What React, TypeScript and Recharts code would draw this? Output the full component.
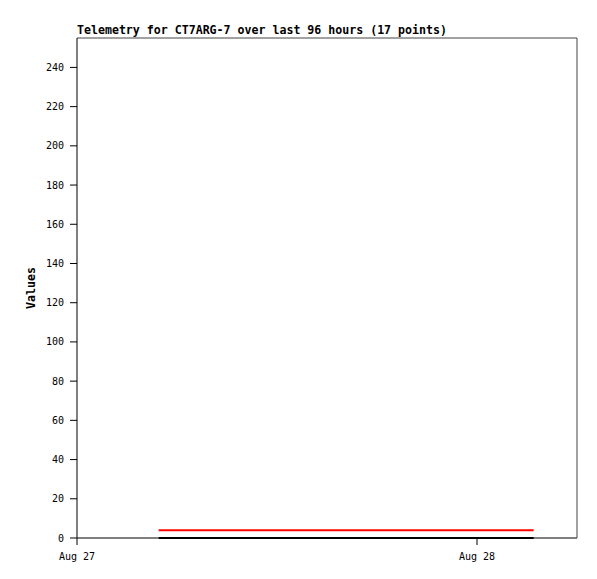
import React from 'react';
import { LineChart, Line, XAxis, YAxis } from 'recharts';

// hours since Aug 27 00:00
const times = [4.9, 6.3, 7.7, 9.1, 10.5, 11.9, 13.4, 14.8, 16.2, 17.6, 19.0, 20.4, 21.8, 23.2, 24.6, 26.0, 27.4];
const redValues = [4, 4, 4, 4, 4, 4, 4, 4, 4, 4, 4, 4, 4, 4, 4, 4, 4];
const blackValues = [0, 0, 0, 0, 0, 0, 0, 0, 0, 0, 0, 0, 0, 0, 0, 0, 0];
const yTicks = [0, 20, 40, 60, 80, 100, 120, 140, 160, 180, 200, 220, 240];
const xTicks = [0, 24];
const xTickLabels = ['Aug 27', 'Aug 28'];

const data = times.map((t, i) => ({ t, red: redValues[i], black: blackValues[i] }));

const mono = '"DejaVu Sans Mono", monospace';

const App: React.FC = () => {
  return (
    <div style={{ position: 'absolute', left: 0, top: 0, width: 597, height: 579, background: '#fff' }}>
      <div
        style={{
          position: 'absolute',
          left: 77,
          top: 23,
          fontFamily: mono,
          fontSize: 11.6,
          fontWeight: 'bold',
          color: '#000',
          whiteSpace: 'nowrap',
        }}
      >
        Telemetry for CT7ARG-7 over last 96 hours (17 points)
      </div>
      <LineChart width={597} height={579} data={data} margin={{ top: 0, right: 0, bottom: 0, left: 0 }}>
        <XAxis
          xAxisId="top"
          orientation="top"
          type="number"
          dataKey="t"
          domain={[0, 30]}
          height={38}
          tick={false}
          tickLine={false}
          axisLine={{ stroke: '#444', strokeWidth: 1 }}
        />
        <XAxis
          type="number"
          dataKey="t"
          domain={[0, 30]}
          ticks={xTicks}
          height={41}
          tickSize={7}
          tickMargin={8}
          tickFormatter={(v: number) => xTickLabels[xTicks.indexOf(v)]}
          tick={{ fontFamily: mono, fontSize: 10, fill: '#000' }}
          tickLine={{ stroke: '#000' }}
          axisLine={{ stroke: '#000' }}
        />
        <YAxis
          type="number"
          domain={[0, 255]}
          ticks={yTicks}
          width={77}
          interval={0}
          tickSize={7}
          tickMargin={6}
          tick={{ fontFamily: mono, fontSize: 10, fill: '#000' }}
          tickLine={{ stroke: '#000' }}
          axisLine={{ stroke: '#000' }}
          label={{
            value: 'Values',
            angle: -90,
            position: 'insideLeft',
            offset: 31,
            style: { fontFamily: mono, fontSize: 11.6, fontWeight: 'bold', fill: '#000', textAnchor: 'middle' },
          }}
        />
        <YAxis
          yAxisId="right"
          orientation="right"
          domain={[0, 255]}
          width={20}
          tick={false}
          tickLine={false}
          axisLine={{ stroke: '#444', strokeWidth: 1 }}
        />
        <Line
          dataKey="black"
          stroke="#000"
          strokeWidth={2}
          dot={false}
          isAnimationActive={false}
          type="linear"
        />
        <Line
          dataKey="red"
          stroke="#ff0000"
          strokeWidth={2}
          dot={false}
          isAnimationActive={false}
          type="linear"
        />
      </LineChart>
    </div>
  );
};

export default App;
